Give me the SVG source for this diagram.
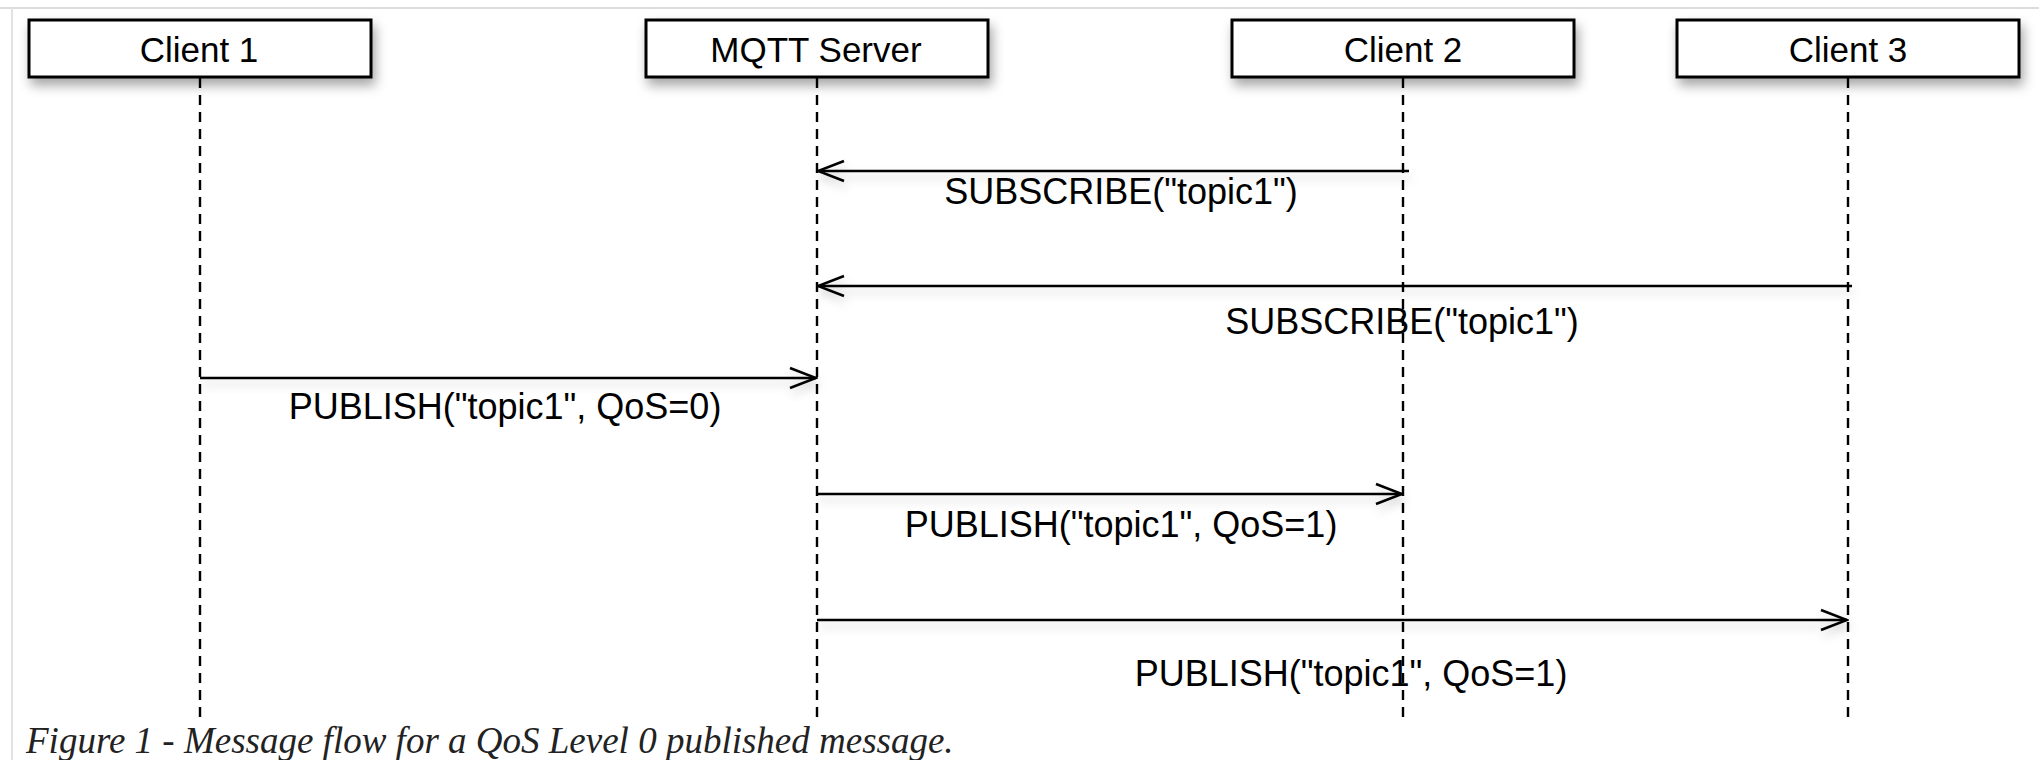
<svg xmlns="http://www.w3.org/2000/svg" width="2039" height="760" viewBox="0 0 2039 760">
  <defs>
    <filter id="shadow" x="-10%" y="-30%" width="125%" height="190%">
      <feDropShadow dx="3" dy="7" stdDeviation="6" flood-color="#000" flood-opacity="0.35"/>
    </filter>
    <filter id="lshadow" x="-5%" y="-200%" width="110%" height="500%">
      <feDropShadow dx="2" dy="6" stdDeviation="5" flood-color="#000" flood-opacity="0.18"/>
    </filter>
    <marker id="open" markerUnits="userSpaceOnUse" viewBox="0 0 30 24" markerWidth="30" markerHeight="24" refX="28" refY="12" orient="auto">
      <path d="M2,2 L28,12 L2,22" fill="none" stroke="#000" stroke-width="2.6" stroke-linejoin="miter"/>
    </marker>
  </defs>
  <style>
    .box { fill: #fff; stroke: #000; stroke-width: 3; }
    .nlabel { font-family: "Liberation Sans", Arial, sans-serif; font-size: 35px; fill: #000; text-anchor: middle; }
    .life { stroke: #000; stroke-width: 2.4; stroke-dasharray: 10 7; fill: none; }
    .msg { stroke: #000; stroke-width: 2.6; fill: none; marker-end: url(#open); }
    .mlabel { font-family: "Liberation Sans", Arial, sans-serif; font-size: 36px; fill: #000; text-anchor: middle; }
    .caption { font-family: "Liberation Serif", Georgia, serif; font-style: italic; font-size: 37px; fill: #222; }
  </style>
  <rect x="0" y="0" width="2039" height="760" fill="#fff"/>
  <line x1="0" y1="8" x2="2039" y2="8" stroke="#dcdcdc" stroke-width="2"/>
  <line x1="12" y1="8" x2="12" y2="760" stroke="#e2e2e2" stroke-width="2"/>

  <g id="lifelines">
    <line class="life" x1="200" y1="78" x2="200" y2="722"/>
    <line class="life" x1="817" y1="78" x2="817" y2="722"/>
    <line class="life" x1="1403" y1="78" x2="1403" y2="722"/>
    <line class="life" x1="1848" y1="78" x2="1848" y2="722"/>
  </g>

  <g id="client1">
    <rect class="box" x="29" y="20" width="342" height="57" filter="url(#shadow)"/>
    <text class="nlabel" x="199" y="62">Client 1</text>
  </g>
  <g id="server">
    <rect class="box" x="646" y="20" width="342" height="57" filter="url(#shadow)"/>
    <text class="nlabel" x="816" y="62">MQTT Server</text>
  </g>
  <g id="client2">
    <rect class="box" x="1232" y="20" width="342" height="57" filter="url(#shadow)"/>
    <text class="nlabel" x="1403" y="62">Client 2</text>
  </g>
  <g id="client3">
    <rect class="box" x="1677" y="20" width="342" height="57" filter="url(#shadow)"/>
    <text class="nlabel" x="1848" y="62">Client 3</text>
  </g>

  <g id="connectors">
    <g filter="url(#lshadow)">
      <line class="msg" x1="1409" y1="171" x2="818" y2="171"/>
      <line class="msg" x1="1852" y1="286" x2="818" y2="286"/>
      <line class="msg" x1="200" y1="378" x2="816" y2="378"/>
      <line class="msg" x1="817" y1="494" x2="1402" y2="494"/>
      <line class="msg" x1="817" y1="620" x2="1847" y2="620"/>
    </g>
    <text class="mlabel" x="1121" y="204">SUBSCRIBE("topic1")</text>
    <text class="mlabel" x="1402" y="334">SUBSCRIBE("topic1")</text>
    <text class="mlabel" x="505" y="419">PUBLISH("topic1", QoS=0)</text>
    <text class="mlabel" x="1121" y="537">PUBLISH("topic1", QoS=1)</text>
    <text class="mlabel" x="1351" y="686">PUBLISH("topic1", QoS=1)</text>
  </g>

  <rect x="14" y="724" width="2025" height="36" fill="#fff"/>
  <text class="caption" x="26" y="753">Figure 1 - Message flow for a QoS Level 0 published message.</text>
</svg>
